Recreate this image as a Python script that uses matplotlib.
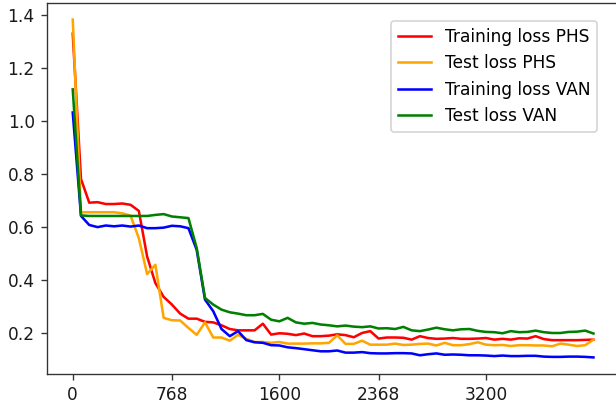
import numpy as np
import matplotlib
matplotlib.use("Agg")
import matplotlib.pyplot as plt

# training steps, one point every 64 steps
steps = np.arange(0, 4033, 64)
tick_steps = [0, 768, 1600, 2368, 3200]

train_phs = [1.328, 0.780, 0.691, 0.693, 0.686, 0.686, 0.688, 0.683, 0.660, 0.488,
             0.388, 0.336, 0.307, 0.273, 0.254, 0.254, 0.242, 0.240, 0.229, 0.215,
             0.210, 0.210, 0.210, 0.235, 0.194, 0.199, 0.197, 0.192, 0.198, 0.188,
             0.188, 0.190, 0.195, 0.192, 0.184, 0.200, 0.207, 0.179, 0.183, 0.183,
             0.182, 0.175, 0.188, 0.181, 0.178, 0.179, 0.181, 0.178, 0.178, 0.179,
             0.181, 0.175, 0.178, 0.175, 0.180, 0.179, 0.188, 0.177, 0.173, 0.173,
             0.173, 0.173, 0.174, 0.175]
test_phs = [1.381, 0.655, 0.655, 0.655, 0.655, 0.655, 0.651, 0.642, 0.557, 0.422,
            0.457, 0.257, 0.248, 0.247, 0.219, 0.193, 0.240, 0.183, 0.183, 0.171,
            0.193, 0.178, 0.166, 0.166, 0.163, 0.166, 0.160, 0.160, 0.160, 0.161,
            0.161, 0.163, 0.191, 0.159, 0.159, 0.171, 0.156, 0.156, 0.156, 0.160,
            0.155, 0.156, 0.159, 0.160, 0.153, 0.163, 0.154, 0.154, 0.158, 0.165,
            0.156, 0.154, 0.155, 0.151, 0.154, 0.154, 0.153, 0.153, 0.150, 0.160,
            0.156, 0.151, 0.154, 0.175]
train_van = [1.031, 0.641, 0.607, 0.599, 0.605, 0.602, 0.605, 0.601, 0.605, 0.595,
             0.595, 0.597, 0.604, 0.602, 0.595, 0.513, 0.326, 0.282, 0.215, 0.188,
             0.207, 0.173, 0.165, 0.163, 0.154, 0.153, 0.146, 0.143, 0.139, 0.135,
             0.131, 0.131, 0.134, 0.126, 0.126, 0.128, 0.124, 0.123, 0.123, 0.124,
             0.124, 0.123, 0.116, 0.120, 0.123, 0.118, 0.119, 0.118, 0.116, 0.116,
             0.115, 0.113, 0.115, 0.113, 0.113, 0.114, 0.114, 0.111, 0.110, 0.110,
             0.111, 0.111, 0.110, 0.108]
test_van = [1.118, 0.643, 0.641, 0.641, 0.641, 0.641, 0.641, 0.641, 0.641, 0.641,
            0.645, 0.648, 0.639, 0.636, 0.633, 0.520, 0.332, 0.307, 0.288, 0.278,
            0.273, 0.267, 0.267, 0.272, 0.250, 0.244, 0.257, 0.240, 0.235, 0.238,
            0.232, 0.229, 0.225, 0.228, 0.224, 0.222, 0.225, 0.217, 0.218, 0.215,
            0.223, 0.210, 0.207, 0.213, 0.220, 0.214, 0.210, 0.214, 0.215, 0.208,
            0.204, 0.203, 0.199, 0.207, 0.203, 0.204, 0.209, 0.203, 0.200, 0.200,
            0.204, 0.205, 0.209, 0.198]

W, H = 616, 406
DPI = 122  # original looks like a 10pt figure rendered a bit larger
fig = plt.figure(figsize=(W / DPI, H / DPI), dpi=DPI)
# right spine falls just outside the picture, as in the original crop
ax = fig.add_axes([46.7 / W, (H - 374.3) / H, (619.5 - 46.7) / W, (374.3 - 2.7) / H])

ax.plot(steps, train_phs, color="red", label="Training loss PHS")
ax.plot(steps, test_phs, color="orange", label="Test loss PHS")
ax.plot(steps, train_van, color="blue", label="Training loss VAN")
ax.plot(steps, test_van, color="green", label="Test loss VAN")

ax.set_xticks(tick_steps)
ax.set_yticks([0.2, 0.4, 0.6, 0.8, 1.0, 1.2, 1.4])
for s in ax.spines.values():
    s.set_color("#333333")
ax.tick_params(color="#333333", labelcolor="#1a1a1a")

ax.legend(loc="upper right", bbox_to_anchor=(597.3 / W, (H - 21) / H),
          bbox_transform=fig.transFigure, borderaxespad=0)

fig.savefig("out.png", dpi=DPI)
